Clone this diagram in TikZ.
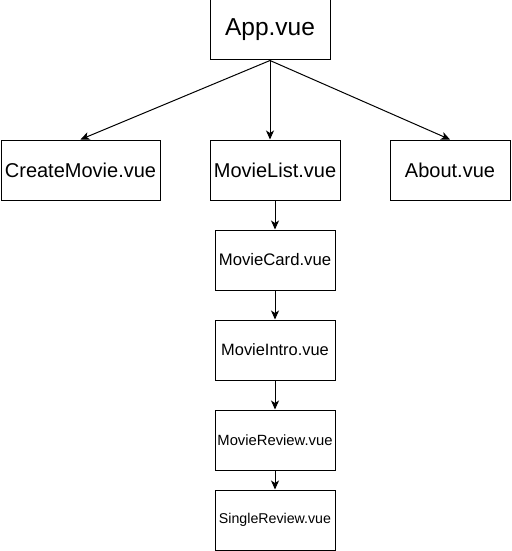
\documentclass[tikz,border=0pt]{standalone}
\usepackage{fontspec}
\setmainfont{Liberation Sans}
\usetikzlibrary{arrows.meta}
\begin{document}
\begin{tikzpicture}[x=1pt,y=-1pt,
  box/.style={draw=black,line width=1pt,fill=white,inner sep=0pt,minimum height=60pt},
  conn/.style={line width=1pt,-{Stealth[length=9pt,width=8pt,inset=2.5pt]}}]
\useasboundingbox (0,0) rectangle (511,551);
\node[box,minimum width=120pt,font=\fontsize{24.5}{28}\selectfont] (app) at (270,30) {App.vue};
\node[box,minimum width=159pt,font=\fontsize{20}{24}\selectfont] (create) at (80.5,170) {CreateMovie.vue};
\node[box,minimum width=130pt,font=\fontsize{20}{24}\selectfont] (list) at (275,170) {MovieList.vue};
\node[box,minimum width=120pt,font=\fontsize{20}{24}\selectfont] (about) at (450,170) {About.vue};
\node[box,minimum width=120pt,font=\fontsize{16.7}{19}\selectfont] (card) at (275,260) {MovieCard.vue};
\node[box,minimum width=120pt,font=\fontsize{16.4}{19}\selectfont] (intro) at (275,350) {MovieIntro.vue};
\node[box,minimum width=120pt,font=\fontsize{14.8}{18}\selectfont] (review) at (275,440) {MovieReview.vue};
\node[box,minimum width=120pt,font=\fontsize{14.2}{17}\selectfont] (single) at (275,520) {SingleReview.vue};
\draw[conn] (app.south) -- (create.north);
\draw[conn] (app.south) -- (app.south |- list.north);
\draw[conn] (app.south) -- (about.north);
\draw[conn] (list.south) -- (card.north);
\draw[conn] (card.south) -- (intro.north);
\draw[conn] (intro.south) -- (review.north);
\draw[conn] (review.south) -- (single.north);
\end{tikzpicture}
\end{document}
